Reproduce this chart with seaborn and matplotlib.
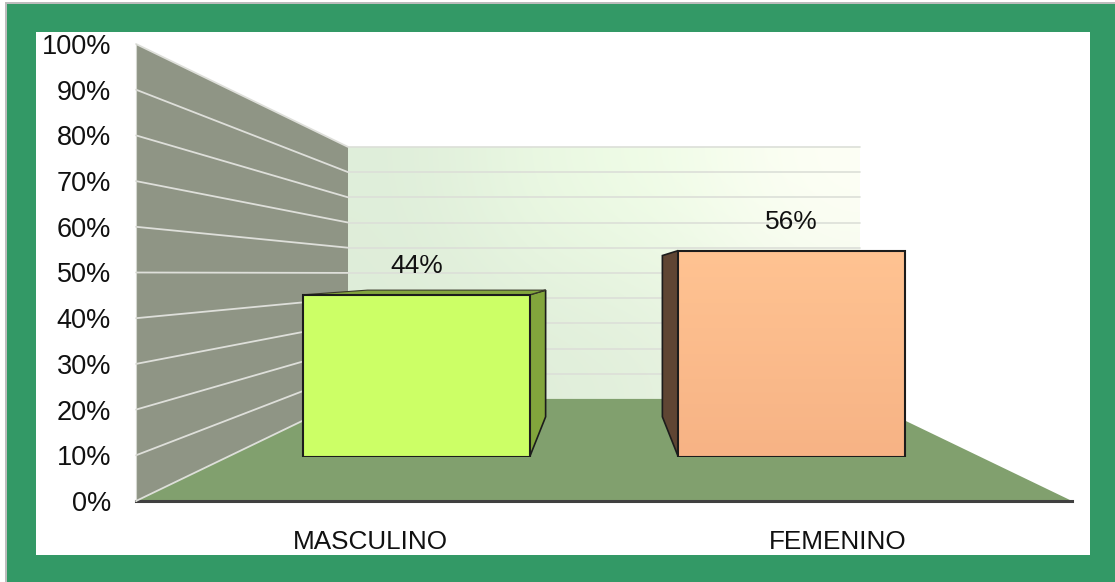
import numpy as np
import pandas as pd
import matplotlib
matplotlib.use("Agg")
import matplotlib.pyplot as plt
from matplotlib.colors import to_rgb
from matplotlib.patches import Polygon, Rectangle
import seaborn as sns

categories = ["MASCULINO", "FEMENINO"]
percentages = [44, 56]
y_ticks = [0, 10, 20, 30, 40, 50, 60, 70, 80, 90, 100]

W, H = 1115, 582
sns.set_theme(style="white")
plt.rcParams["font.family"] = ["Liberation Sans"]

fig = plt.figure(figsize=(W / 100, H / 100), dpi=100, facecolor="white")

def frect(x0, y0, x1, y1, color):
    fig.patches.append(Rectangle((x0 / W, 1 - y1 / H), (x1 - x0) / W, (y1 - y0) / H,
                                 transform=fig.transFigure, facecolor=color,
                                 edgecolor="none", zorder=-5))

frect(5, 2, W, H, "#BDBDBD")
frect(7, 4, W, H, "#339966")
frect(36, 32, 1090, 555, "white")

def box(x0, ytop, x1, ybot):
    return [x0 / W, 1 - ybot / H, (x1 - x0) / W, (ybot - ytop) / H]

ax = fig.add_axes(box(136, 44, 1072, 501), facecolor="none", zorder=1)
ax.set_xlim(-0.5, 1.5)
ax.set_ylim(0, 100)

VX, VY = 0.5, 49.8
# depth planes as (x scale, y scale) towards the vanishing point
WALL, FRONT, BACK = (0.547, 0.5514), (0.801, 0.805), (0.63, 0.63)
NEAR = (1, 1)

def P(x, v, s):
    return (VX + s[0] * (x - VX), VY + s[1] * (v - VY))

# back wall
(xa, ya), (xb, yb) = P(-0.5, 0, WALL), P(1.5, 100, WALL)
wall_colours = np.array([[to_rgb(c) for c in row] for row in
                         [["#DEECD8", "#E0EEDA", "#E3F0DD", "#F0F8E8"],
                          ["#DFEEDA", "#EBF9E3", "#F0FDE7", "#FEFFF6"]]])
ax.imshow(wall_colours, extent=(xa, xb, ya, yb), origin="lower", aspect="auto",
          interpolation="bicubic", zorder=1)
ax.set_xlim(-0.5, 1.5)
ax.set_ylim(0, 100)
# floor
ax.add_patch(Polygon([P(-0.5, 0, NEAR), P(-0.5, 0, WALL), P(1.5, 0, WALL), P(1.5, 0, NEAR)],
                     facecolor="#81A06E", edgecolor="none", zorder=2, clip_on=False))
# side wall
ax.add_patch(Polygon([P(-0.5, 0, NEAR), P(-0.5, 100, NEAR), P(-0.5, 100, WALL), P(-0.5, 0, WALL)],
                     facecolor="#8F9585", edgecolor="none", zorder=2, clip_on=False))
for t in y_ticks:
    p0, p1, p2 = P(-0.5, t, NEAR), P(-0.5, t, WALL), P(1.5, t, WALL)
    if t > 0:
        ax.plot([p1[0], p2[0]], [p1[1], p2[1]], color="#DCDFD8", lw=1.2, zorder=1.5, clip_on=False)
    ax.plot([p0[0], p1[0]], [p0[1], p1[1]], color="#DEDFDA", lw=1.3, zorder=3, clip_on=False)
p0, p1 = P(-0.5, 0, NEAR), P(-0.5, 100, NEAR)
ax.plot([p0[0], p1[0]], [p0[1], p1[1]], color="#D5D7D0", lw=0.8, zorder=3, clip_on=False)

ax.set_xticks([0, 1], categories)
ax.set_yticks(y_ticks, [f"{t}%" for t in y_ticks])
ax.tick_params(axis="y", length=0, pad=18, labelsize=19.5, colors="#111111")
ax.tick_params(axis="x", length=0, pad=21, labelsize=18.8, colors="#111111")
for side in ("top", "left", "right"):
    ax.spines[side].set_visible(False)
ax.spines["bottom"].set_visible(True)
ax.spines["bottom"].set_color("#404040")
ax.spines["bottom"].set_linewidth(2.2)
ax.set_xlabel("")
ax.set_ylabel("")
ax.grid(False)

# bars on the plane of their front faces
fig.canvas.draw()
left = ax.transData.transform(P(-0.5, 0, FRONT))
right = ax.transData.transform(P(1.5, 100, FRONT))
axb = fig.add_axes([left[0] / W, left[1] / H, (right[0] - left[0]) / W, (right[1] - left[1]) / H],
                   facecolor="none", zorder=2)
df = pd.DataFrame({"sexo": categories, "pct": percentages})
sns.barplot(data=df, x="sexo", y="pct", hue="sexo", palette=["#CCFF66", "#FFC392"],
            width=0.604, legend=False, ax=axb, saturation=1, edgecolor="#1C1C1C", linewidth=1.5)
axb.set_xlim(-0.5, 1.5)
axb.set_ylim(0, 100)
axb.axis("off")

side_cols = ["#82A53C", "#5F4533"]
for bar, col in zip(axb.patches, side_cols):
    x0, x1 = bar.get_x(), bar.get_x() + bar.get_width()
    h = bar.get_height()
    xs = x1 if x1 < VX else x0
    ax.add_patch(Polygon([P(xs, 0, FRONT), P(xs, h, FRONT), P(xs, h, BACK), P(xs, 0, BACK)],
                         facecolor=col, edgecolor="#1C1C1C", lw=1.2, zorder=4, clip_on=False))
    if h < VY:
        ax.add_patch(Polygon([P(x0, h, FRONT), P(x1, h, FRONT), P(x1, h, BACK), P(x0, h, BACK)],
                             facecolor=col, edgecolor="#3A3A2A", lw=0.8, zorder=4, clip_on=False))

# gradient on the second bar
b = axb.patches[1]
axb.imshow(np.linspace(to_rgb("#F7B385"), to_rgb("#FFC392"), 64)[:, None, :],
           extent=(b.get_x(), b.get_x() + b.get_width(), 0, b.get_height()),
           origin="lower", aspect="auto", interpolation="bilinear", zorder=0.5)
b.set_facecolor("none")
axb.set_xlim(-0.5, 1.5)
axb.set_ylim(0, 100)

for c in axb.containers:
    axb.bar_label(c, fmt="%g%%", padding=12, fontsize=19, color="#111111")

fig.savefig("out.png", dpi=100, facecolor="white")
